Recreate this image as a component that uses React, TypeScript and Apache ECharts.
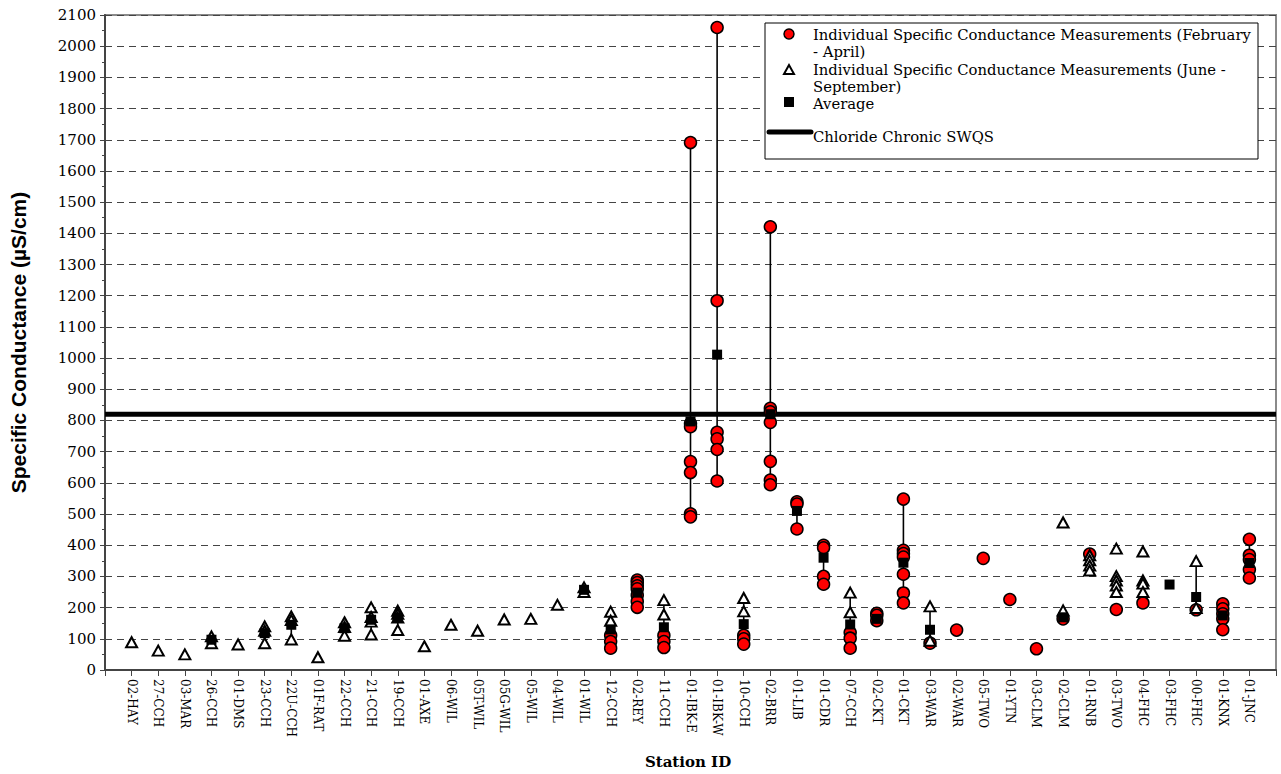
import React, { useEffect, useRef } from "react";
import * as echarts from "echarts";

const stations = [
  "02-HAY", "27-CCH", "03-MAR", "26-CCH", "01-DMS", "23-CCH", "22U-CCH", "01F-RAT",
  "22-CCH", "21-CCH", "19-CCH", "01-AXE", "06-WIL", "05T-WIL", "05G-WIL", "05-WIL",
  "04-WIL", "01-WIL", "12-CCH", "02-REY", "11-CCH", "01-IBK-E", "01-IBK-W", "10-CCH",
  "02-BRR", "01-LIB", "01-CDR", "07-CCH", "02-CKT", "01-CKT", "03-WAR", "02-WAR",
  "05-TWO", "01-YTN", "03-CLM", "02-CLM", "01-RNB", "03-TWO", "04-FHC", "03-FHC",
  "00-FHC", "01-KNX", "01-JNC",
];

// Individual measurements, February - April (red circles)
const febAprValues: number[][] = [
  [], [], [], [], [], [], [], [],
  [], [], [], [], [], [], [], [],
  [], [],
  [111, 91, 70],                          // 12-CCH
  [288, 280, 270, 260, 240, 220, 201],    // 02-REY
  [111, 91, 72],                          // 11-CCH
  [1691, 790, 780, 668, 633, 501, 491],   // 01-IBK-E
  [2060, 1184, 762, 741, 707, 606],       // 01-IBK-W
  [111, 100, 83],                         // 10-CCH
  [1421, 839, 828, 794, 669, 609, 594],   // 02-BRR
  [539, 532, 452],                        // 01-LIB
  [400, 392, 300, 275],                   // 01-CDR
  [120, 102, 70],                         // 07-CCH
  [182, 175, 158],                        // 02-CKT
  [548, 384, 373, 362, 307, 247, 215],    // 01-CKT
  [86],                                   // 03-WAR
  [128],                                  // 02-WAR
  [358],                                  // 05-TWO
  [226],                                  // 01-YTN
  [68],                                   // 03-CLM
  [164],                                  // 02-CLM
  [372],                                  // 01-RNB
  [194],                                  // 03-TWO
  [215],                                  // 04-FHC
  [],                                     // 03-FHC
  [193],                                  // 00-FHC
  [212, 196, 180, 164, 129],              // 01-KNX
  [419, 368, 354, 322, 295],              // 01-JNC
];

// Individual measurements, June - September (open triangles)
const junSepValues: number[][] = [
  [89],                  // 02-HAY
  [62],                  // 27-CCH
  [50],                  // 03-MAR
  [108, 86],             // 26-CCH
  [82],                  // 01-DMS
  [140, 126, 86],        // 23-CCH
  [172, 160, 98],        // 22U-CCH
  [41],                  // 01F-RAT
  [153, 138, 110],       // 22-CCH
  [201, 170, 155, 114],  // 21-CCH
  [190, 180, 168, 128],  // 19-CCH
  [76],                  // 01-AXE
  [145],                 // 06-WIL
  [126],                 // 05T-WIL
  [162],                 // 05G-WIL
  [164],                 // 05-WIL
  [209],                 // 04-WIL
  [265, 250],            // 01-WIL
  [187, 158],            // 12-CCH
  [],                    // 02-REY
  [224, 178],            // 11-CCH
  [], [],                // 01-IBK-E, 01-IBK-W
  [231, 188],            // 10-CCH
  [], [], [],            // 02-BRR, 01-LIB, 01-CDR
  [248, 185],            // 07-CCH
  [], [],                // 02-CKT, 01-CKT
  [204, 94],             // 03-WAR
  [], [], [], [],        // 02-WAR, 05-TWO, 01-YTN, 03-CLM
  [473, 191],            // 02-CLM
  [368, 352, 335, 319],  // 01-RNB
  [389, 301, 287, 271, 250], // 03-TWO
  [380, 287, 277, 250],  // 04-FHC
  [],                    // 03-FHC
  [349, 199],            // 00-FHC
  [], [],                // 01-KNX, 01-JNC
];

// Station averages (black squares); null where none is shown
const averageValues: (number | null)[] = [
  null, null, null, 97, null, 118, 145, null,
  134, 161, 167, null, null, null, null, null,
  null, 257, 130, 248, 137, 797, 1011, 147,
  820, 510, 360, 146, 164, 344, 129, null,
  null, null, null, 169, null, null, null, 274,
  234, 175, 343,
];

// Vertical range lines: [station, low, high]
const rangeLines: [string, number, number][] = [
  ["26-CCH", 86, 108], ["23-CCH", 86, 140], ["22U-CCH", 98, 172], ["22-CCH", 110, 153],
  ["21-CCH", 114, 201], ["19-CCH", 128, 190], ["01-WIL", 250, 265], ["12-CCH", 70, 187],
  ["02-REY", 201, 288], ["11-CCH", 72, 224], ["01-IBK-E", 491, 1691], ["01-IBK-W", 606, 2060],
  ["10-CCH", 83, 231], ["02-BRR", 594, 1421], ["01-LIB", 452, 539], ["01-CDR", 275, 400],
  ["07-CCH", 70, 248], ["02-CKT", 158, 182], ["01-CKT", 215, 548], ["03-WAR", 86, 204],
  ["00-FHC", 193, 349], ["01-KNX", 129, 212], ["01-JNC", 295, 419],
];

const swqsValue = 820;
const yTicks = { min: 0, max: 2100, step: 100 };

const SERIF = "'DejaVu Serif', 'Liberation Serif', serif";

export default function App() {
  const ref = useRef<HTMLDivElement>(null);

  useEffect(() => {
    if (!ref.current) return;
    const chart = echarts.init(ref.current, null, { renderer: "svg" });

    const circles: number[][] = [];
    febAprValues.forEach((vals, i) => vals.forEach((v) => circles.push([i + 1, v])));
    const triangles: number[][] = [];
    junSepValues.forEach((vals, i) => vals.forEach((v) => triangles.push([i + 1, v])));
    const squares: number[][] = [];
    averageValues.forEach((v, i) => {
      if (v !== null) squares.push([i + 1, v]);
    });
    const ranges = rangeLines.map(([s, lo, hi]) => [stations.indexOf(s) + 1, lo, hi]);
    const nCat = stations.length + 1;

    const lx = 769;
    const tx = 813;
    const textStyle = { fontFamily: SERIF, fontSize: 14.8, fill: "#000" };

    chart.setOption({
      animation: false,
      backgroundColor: "#fff",
      grid: {
        left: 99, right: 5, top: 15, bottom: 104,
        show: true, borderColor: "#8a8a8a", borderWidth: 2,
      },
      xAxis: {
        type: "value",
        min: 0,
        max: nCat,
        interval: 1,
        axisLine: { show: true, lineStyle: { color: "#444", width: 2 } },
        axisTick: { show: true, length: 6, inside: false, lineStyle: { color: "#444", width: 1 } },
        axisLabel: {
          rotate: -90,
          margin: 9,
          fontFamily: SERIF,
          fontSize: 12,
          color: "#000",
          showMinLabel: true,
          showMaxLabel: true,
          formatter: (v: number) => stations[Math.round(v) - 1] ?? "",
        },
        splitLine: { show: false },
      },
      yAxis: {
        type: "value",
        min: yTicks.min,
        max: yTicks.max,
        interval: yTicks.step,
        name: "Specific Conductance (µS/cm)",
        nameLocation: "middle",
        nameGap: 76,
        nameMoveOverlap: false,
        nameRotate: 90,
        nameTextStyle: { fontFamily: "'Liberation Sans', Arial, sans-serif", fontWeight: "bold", fontSize: 21, color: "#000" },
        axisLine: { show: true, lineStyle: { color: "#444", width: 2 } },
        axisTick: { show: true, length: 5, lineStyle: { color: "#444" } },
        minorTick: { show: true, splitNumber: 2, length: 3, lineStyle: { color: "#444" } },
        axisLabel: {
          fontFamily: SERIF, fontSize: 15, color: "#000", margin: 9,
          formatter: (v: number) => String(v),
        },
        splitLine: { show: true, lineStyle: { color: "#444", width: 1, type: [7, 5] } },
      },
      series: [
        {
          type: "custom",
          name: "range",
          data: ranges,
          z: 1,
          renderItem: (params: any, api: any) => {
            const p1 = api.coord([api.value(0), api.value(1)]);
            const p2 = api.coord([api.value(0), api.value(2)]);
            return {
              type: "line",
              shape: { x1: p1[0], y1: p1[1], x2: p2[0], y2: p2[1] },
              style: { stroke: "#000", lineWidth: 1.6 },
            };
          },
        },
        {
          type: "line",
          name: "Chloride Chronic SWQS",
          data: [[0, swqsValue], [nCat, swqsValue]],
          symbol: "none",
          lineStyle: { color: "#000", width: 5 },
          z: 2,
        },
        {
          type: "scatter",
          name: "Individual Specific Conductance Measurements (February - April)",
          data: circles,
          symbol: "circle",
          symbolSize: 12,
          itemStyle: { color: "#ff0000", borderColor: "#000", borderWidth: 1.5, opacity: 1 },
          z: 3,
        },
        {
          type: "scatter",
          name: "Individual Specific Conductance Measurements (June - September)",
          data: triangles,
          symbol: "triangle",
          symbolSize: [11, 10],
          itemStyle: { color: "#fff", borderColor: "#000", borderWidth: 2, opacity: 1 },
          z: 4,
        },
        {
          type: "scatter",
          name: "Average",
          data: squares,
          symbol: "rect",
          symbolSize: 10,
          itemStyle: { color: "#000", opacity: 1 },
          z: 5,
        },
      ],
      graphic: [
        {
          type: "text",
          x: 688,
          y: 762,
          style: {
            text: "Station ID", fontFamily: SERIF, fontWeight: "bold", fontSize: 15,
            fill: "#000", align: "center", verticalAlign: "middle",
          },
        },
        {
          type: "rect",
          shape: { x: 765, y: 23, width: 493, height: 136 },
          style: { fill: "#fff", stroke: "#000", lineWidth: 1 },
          z: 100,
        },
        {
          type: "circle",
          shape: { cx: lx + 20, cy: 34, r: 5 },
          style: { fill: "#ff0000", stroke: "#000", lineWidth: 1.5 },
          z: 101,
        },
        {
          type: "polygon",
          shape: { points: [[lx + 20, 65], [lx + 15, 74], [lx + 25, 74]] },
          style: { fill: "#fff", stroke: "#000", lineWidth: 2 },
          z: 101,
        },
        {
          type: "rect",
          shape: { x: lx + 15, y: 97, width: 10, height: 10 },
          style: { fill: "#000" },
          z: 101,
        },
        {
          type: "line",
          shape: { x1: lx, y1: 132, x2: lx + 42, y2: 132 },
          style: { stroke: "#000", lineWidth: 5, lineCap: "round" },
          z: 101,
        },
        { type: "text", x: tx, y: 34, style: { ...textStyle, text: "Individual Specific Conductance Measurements (February", verticalAlign: "middle" }, z: 101 },
        { type: "text", x: tx, y: 51, style: { ...textStyle, text: "- April)", verticalAlign: "middle" }, z: 101 },
        { type: "text", x: tx, y: 69, style: { ...textStyle, text: "Individual Specific Conductance Measurements (June -", verticalAlign: "middle" }, z: 101 },
        { type: "text", x: tx, y: 86, style: { ...textStyle, text: "September)", verticalAlign: "middle" }, z: 101 },
        { type: "text", x: tx, y: 103, style: { ...textStyle, text: "Average", verticalAlign: "middle" }, z: 101 },
        { type: "text", x: tx, y: 136, style: { ...textStyle, text: "Chloride Chronic SWQS", verticalAlign: "middle" }, z: 101 },
      ],
    });

    return () => chart.dispose();
  }, []);

  return (
    <div
      ref={ref}
      style={{ position: "fixed", left: 0, top: 0, width: 1281, height: 774 }}
    />
  );
}
